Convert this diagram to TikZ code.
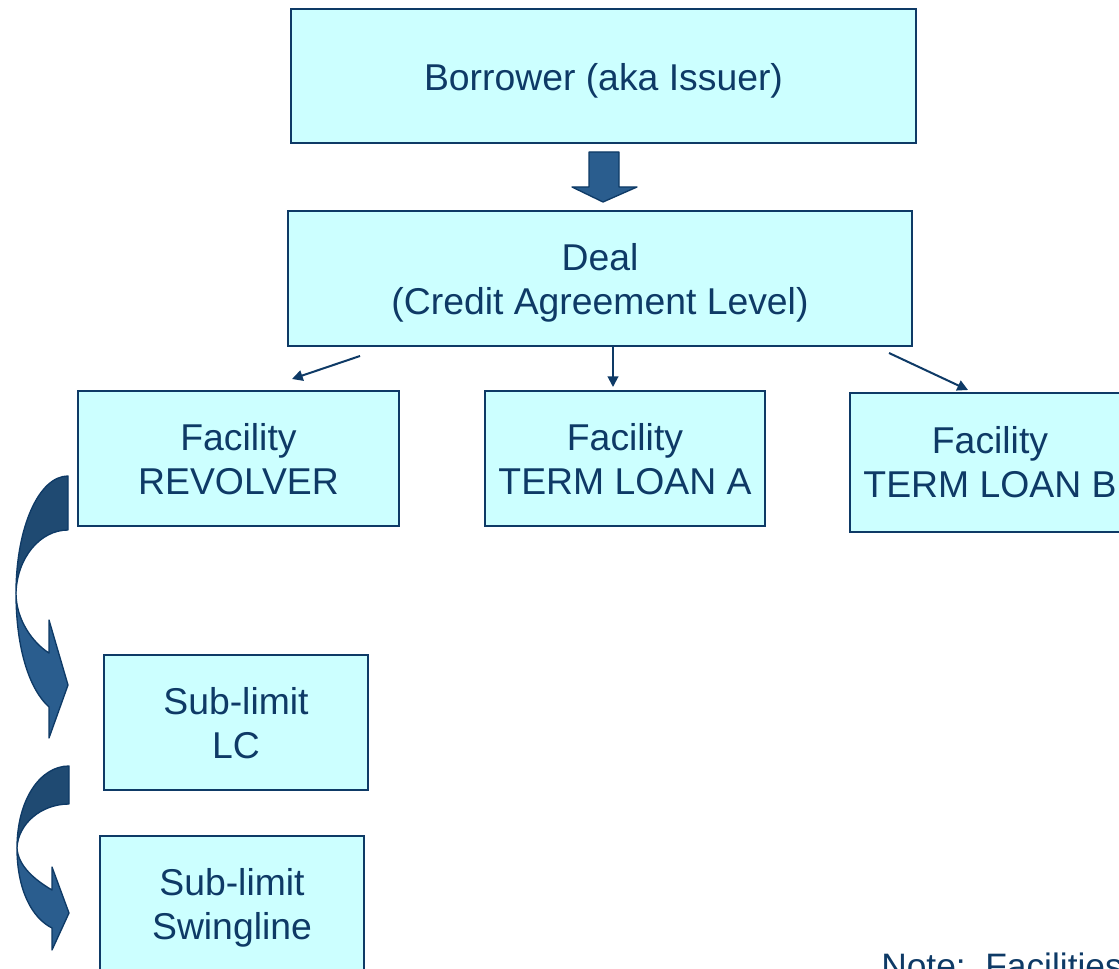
\documentclass[tikz,border=0pt]{standalone}
\usepackage{fontspec}
\setmainfont{Liberation Sans}
\usetikzlibrary{arrows.meta}
\definecolor{navy}{HTML}{0E3A66}
\definecolor{boxfill}{HTML}{CCFFFF}
\definecolor{arrdark}{HTML}{1F4A72}
\definecolor{arrmid}{HTML}{2A5D8E}
\newcommand{\bxtext}[2][-3.75pt]{\raisebox{#1}[\height][\depth]{\begin{tabular}{@{}c@{}}#2\end{tabular}}}
\begin{document}
\begin{tikzpicture}[x=0.75pt,y=-0.75pt,
  box/.style={draw=navy, fill=boxfill, line width=1.4pt, text=navy,
    font=\fontsize{28}{33}\selectfont, inner sep=0pt},
  link/.style={draw=navy, line width=1.5pt, -{Triangle[length=8pt,width=8pt]}},
  bigarrow/.style={draw=navy, line width=1pt, line join=round}]
\path[use as bounding box] (0,0) rectangle (1119,969);
\clip (0,0) rectangle (1119,969);
\fill[white] (0,0) rectangle (1119,969);

\node[box, minimum width=468.75pt, minimum height=100.5pt] (borrower) at (603.5,76) {\bxtext[-4.5pt]{Borrower (aka Issuer)}};
\node[box, minimum width=468pt, minimum height=101.25pt] (deal) at (600,278.5) {\bxtext{Deal\\(Credit Agreement Level)}};
\node[box, minimum width=240.75pt, minimum height=101.25pt] (rev) at (238.5,458.5) {\bxtext{Facility\\REVOLVER}};
\node[box, minimum width=210pt, minimum height=101.25pt] (tla) at (625,458.5) {\bxtext{Facility\\TERM LOAN A}};
\node[box, minimum width=210pt, minimum height=104.25pt] (tlb) at (990,462.5) {\bxtext[-3pt]{Facility\\TERM LOAN B}};
\node[box, minimum width=198pt, minimum height=101.25pt] (lc) at (236,722.5) {\bxtext{Sub-limit\\LC}};
\node[box, minimum width=198pt, minimum height=101.25pt] (swing) at (232,903.5) {\bxtext{Sub-limit\\Swingline}};
\node[text=navy, font=\fontsize{26.5}{32}\selectfont, anchor=base west, inner sep=0pt] (note) at (881,978) {Note:\ \ Facilities};

% block arrow between borrower and deal
\draw[bigarrow, fill=arrmid] (589,152) -- (619,152) -- (619,187) -- (637,187) -- (603,202) -- (572,187) -- (589,187) -- cycle;

% small connectors
\coordinate (s1) at (360,356); \coordinate (e1) at (292,379);
\coordinate (s2) at (613,347); \coordinate (e2) at (613,387);
\coordinate (s3) at (889,353); \coordinate (e3) at (968,390);
\draw[link] (s1) -- (e1);
\draw[link] (s2) -- (e2);
\draw[link] (s3) -- (e3);

% curved arrow 1 (revolver -> LC)
\draw[bigarrow, fill=arrdark] (68,476) .. controls (38.7,476) and (16,528) .. (16,593)
   .. controls (17,558) and (40,530) .. (68,530) -- cycle;
\draw[bigarrow, fill=arrmid] (16,593) .. controls (16,650) and (30,690) .. (49,707)
   -- (49,738) -- (68,685) -- (49,620) -- (49,653)
   .. controls (33,643) and (16,620) .. (16,593) -- cycle;

% curved arrow 2 (LC -> swingline)
\draw[bigarrow, fill=arrdark] (69,766) .. controls (40,766) and (17,800) .. (17,848)
   .. controls (18,824) and (41,804) .. (69,804) -- cycle;
\draw[bigarrow, fill=arrmid] (17,848) .. controls (17,890) and (32,918) .. (52,928)
   -- (52,950) -- (69,913) -- (52,867) -- (52,890)
   .. controls (35,880) and (18,866) .. (17,848) -- cycle;
\end{tikzpicture}
\end{document}
